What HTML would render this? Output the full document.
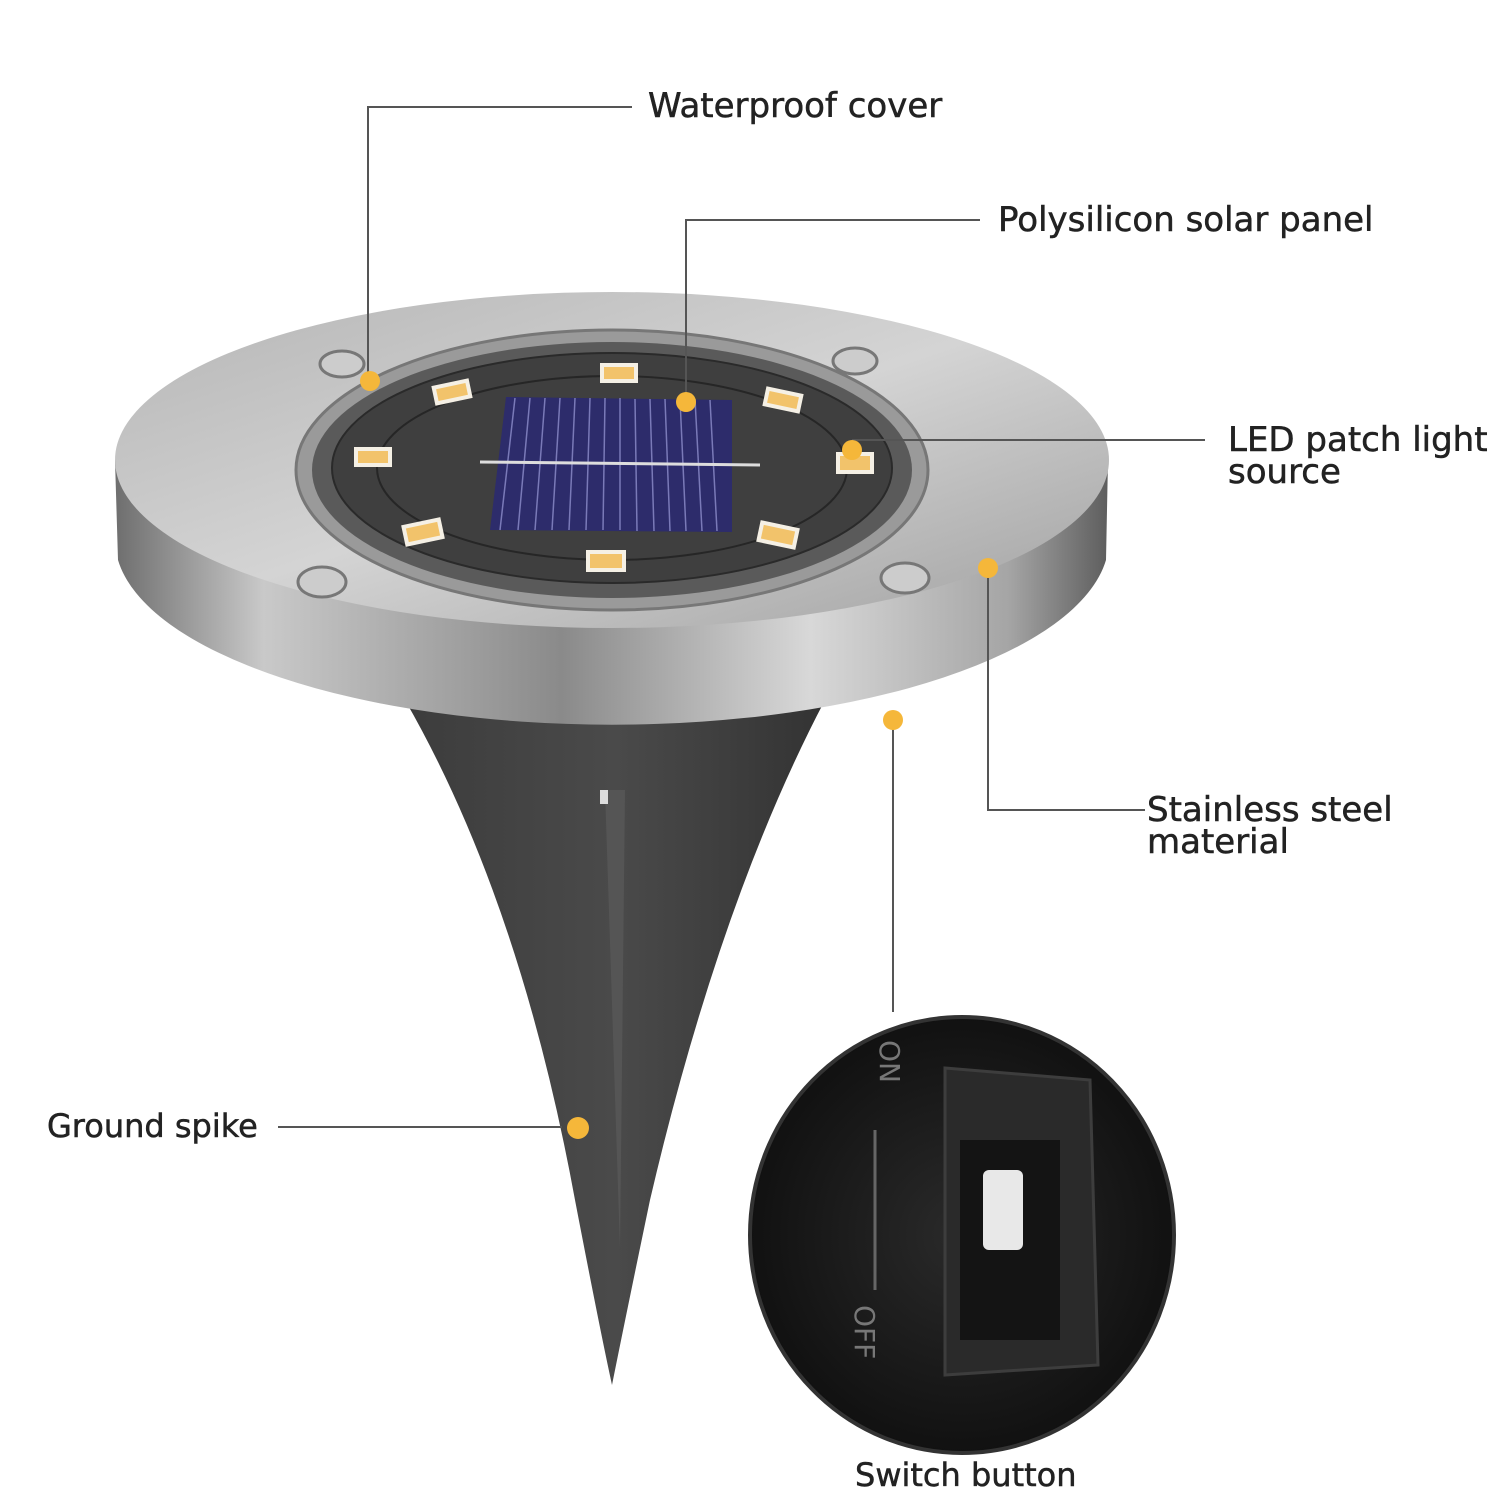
<!DOCTYPE html>
<html><head><meta charset="utf-8"><style>
html,body{margin:0;padding:0;background:#fff}
svg{display:block}
text{font-family:"DejaVu Sans","Liberation Sans",sans-serif;fill:#222;font-size:34px;stroke:#222;stroke-width:0.5}
</style></head><body>
<svg width="1500" height="1500" viewBox="0 0 1500 1500" xmlns="http://www.w3.org/2000/svg">
<defs>
<linearGradient id="side" x1="0" x2="1" y1="0" y2="0">
<stop offset="0" stop-color="#6e6e6e"/><stop offset="0.15" stop-color="#c9c9c9"/>
<stop offset="0.45" stop-color="#8a8a8a"/><stop offset="0.7" stop-color="#d8d8d8"/>
<stop offset="0.9" stop-color="#a5a5a5"/><stop offset="1" stop-color="#5e5e5e"/>
</linearGradient>
<linearGradient id="top" x1="0" x2="1" y1="0" y2="1">
<stop offset="0" stop-color="#b5b5b5"/><stop offset="0.5" stop-color="#d4d4d4"/><stop offset="1" stop-color="#a0a0a0"/>
</linearGradient>
<linearGradient id="spike" x1="0" x2="1">
<stop offset="0" stop-color="#3c3c3c"/><stop offset="0.5" stop-color="#4a4a4a"/><stop offset="1" stop-color="#333"/>
</linearGradient>
<radialGradient id="sw" cx="0.5" cy="0.5" r="0.5">
<stop offset="0" stop-color="#2a2a2a"/><stop offset="1" stop-color="#111"/>
</radialGradient>
</defs>

<path d="M405 700 Q520 900 575 1200 Q600 1330 612 1385 Q625 1320 650 1200 Q720 900 825 700 Z" fill="url(#spike)"/>
<path d="M605 790 L625 790 L620 1250 Z" fill="#555"/>
<rect x="600" y="790" width="8" height="14" fill="#ddd"/>

<path d="M115 460 L118 560 A497 185 0 0 0 1106 560 L1108 460 Z" fill="url(#side)"/>
<ellipse cx="612" cy="460" rx="497" ry="168" fill="url(#top)"/>
<ellipse cx="612" cy="470" rx="316" ry="140" fill="#9a9a9a" stroke="#777" stroke-width="3"/>
<ellipse cx="612" cy="470" rx="300" ry="128" fill="#5a5a5a"/>
<ellipse cx="612" cy="468" rx="280" ry="115" fill="#3f3f3f" stroke="#2a2a2a" stroke-width="2"/>
<ellipse cx="612" cy="468" rx="235" ry="92" fill="none" stroke="#262626" stroke-width="2"/>
<polygon points="506,397 732,400 732,532 490,530" fill="#2d2c6b"/>
<g stroke="#7a7ab8" stroke-width="1.5">
<line x1="515" y1="398" x2="500" y2="530"/><line x1="530" y1="398" x2="518" y2="530"/><line x1="545" y1="398" x2="535" y2="530"/>
<line x1="560" y1="398" x2="552" y2="530"/><line x1="575" y1="398" x2="569" y2="530"/><line x1="590" y1="398" x2="586" y2="530"/>
<line x1="605" y1="398" x2="603" y2="530"/><line x1="620" y1="398" x2="620" y2="530"/><line x1="635" y1="399" x2="637" y2="531"/>
<line x1="650" y1="399" x2="654" y2="531"/><line x1="665" y1="399" x2="670" y2="531"/><line x1="680" y1="399" x2="686" y2="531"/>
<line x1="695" y1="399" x2="702" y2="531"/><line x1="710" y1="400" x2="717" y2="531"/>
</g>
<line x1="480" y1="462" x2="760" y2="465" stroke="#ddd" stroke-width="3"/>
<g fill="#f2c36b" stroke="#f5f0e5" stroke-width="4">
<rect x="602" y="365" width="34" height="16"/><rect x="435" y="384" width="34" height="16" transform="rotate(-12 452 392)"/>
<rect x="766" y="392" width="34" height="16" transform="rotate(12 783 400)"/>
<rect x="356" y="449" width="34" height="16"/><rect x="838" y="454" width="34" height="18"/>
<rect x="405" y="523" width="36" height="18" transform="rotate(-12 423 532)"/>
<rect x="760" y="526" width="36" height="18" transform="rotate(12 778 535)"/>
<rect x="588" y="552" width="36" height="18"/>
</g>
<g fill="#ccc" stroke="#777" stroke-width="3">
<ellipse cx="342" cy="364" rx="22" ry="13"/><ellipse cx="855" cy="361" rx="22" ry="13"/>
<ellipse cx="322" cy="582" rx="24" ry="15"/><ellipse cx="905" cy="578" rx="24" ry="15"/>
</g>

<ellipse cx="962" cy="1235" rx="212" ry="218" fill="url(#sw)" stroke="#333" stroke-width="4"/>
<polygon points="945,1068 1090,1080 1098,1365 945,1375" fill="#2a2a2a" stroke="#3d3d3d" stroke-width="3"/>
<rect x="960" y="1140" width="100" height="200" fill="#141414"/>
<rect x="983" y="1170" width="40" height="80" rx="6" fill="#e8e8e8"/>
<text x="0" y="0" transform="translate(880 1040) rotate(90)" style="fill:#777;stroke:none;font-size:28px">ON</text>
<text x="0" y="0" transform="translate(855 1305) rotate(90)" style="fill:#777;stroke:none;font-size:28px">OFF</text>
<line x1="875" y1="1130" x2="875" y2="1290" stroke="#666" stroke-width="3"/>

<g stroke="#555" stroke-width="2" fill="none">
<polyline points="368,378 368,107 632,107"/>
<polyline points="686,402 686,220 980,220"/>
<line x1="852" y1="440" x2="1205" y2="440"/>
<polyline points="988,568 988,810 1145,810"/>
<line x1="893" y1="720" x2="893" y2="1012"/>
<line x1="278" y1="1127" x2="562" y2="1127"/>
</g>
<g fill="#f5b73a">
<circle cx="370" cy="381" r="10"/><circle cx="686" cy="402" r="10"/><circle cx="852" cy="450" r="10"/>
<circle cx="988" cy="568" r="10"/><circle cx="893" cy="720" r="10"/><circle cx="578" cy="1128" r="11"/>
</g>
<text x="648" y="117">Waterproof cover</text>
<text x="998" y="231">Polysilicon solar panel</text>
<text x="1228" y="451">LED patch light</text>
<text x="1228" y="483">source</text>
<text x="1147" y="821">Stainless steel</text>
<text x="1147" y="853">material</text>
<text x="47" y="1137" style="font-size:32px">Ground spike</text>
<text x="855" y="1486" style="font-size:32px">Switch button</text>
</svg>
</body></html>
